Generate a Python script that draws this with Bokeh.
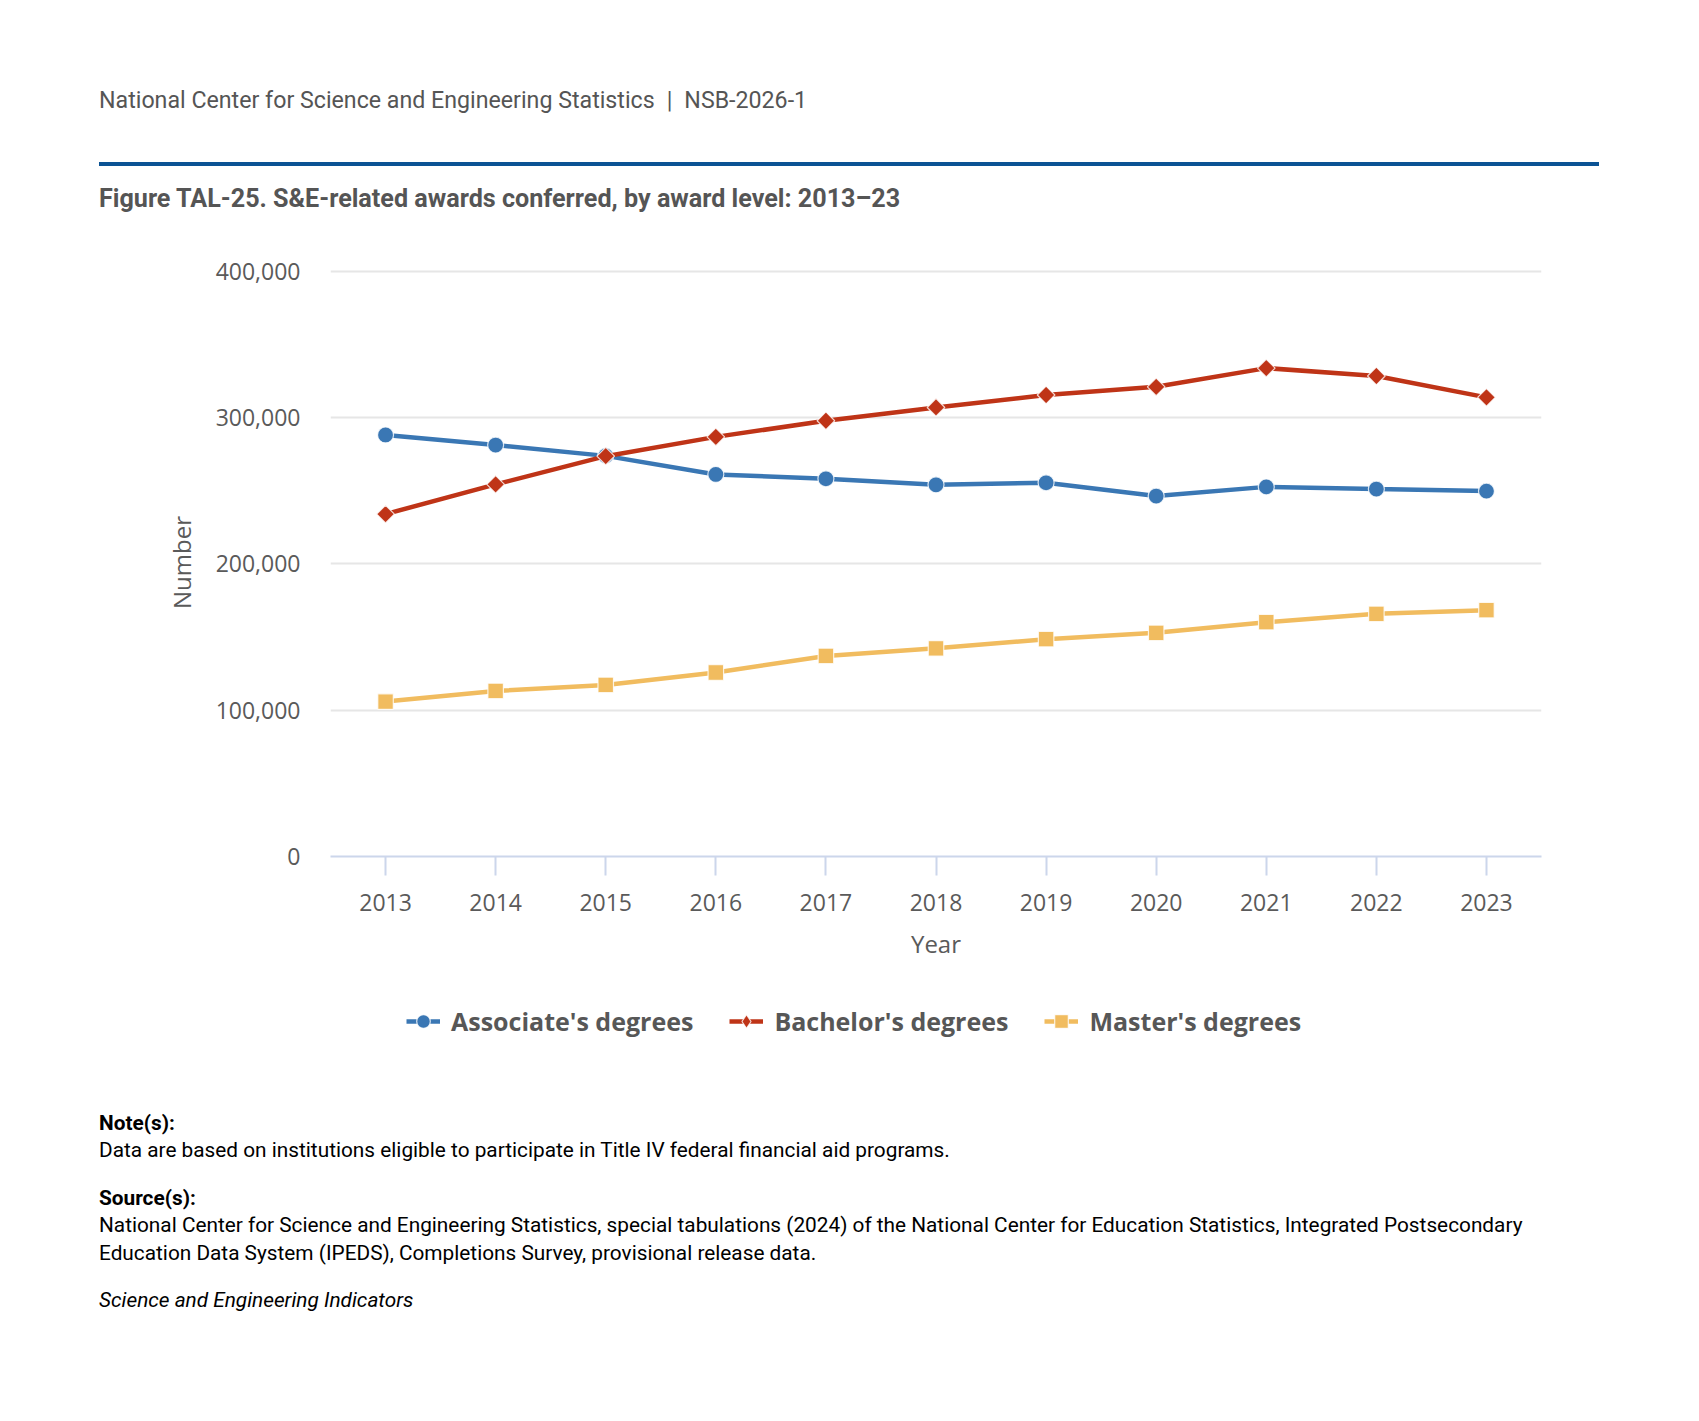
import numpy as np
from bokeh.plotting import figure
from bokeh.models import Legend, LegendItem, FixedTicker, NumeralTickFormatter, Div
from bokeh.layouts import column
from bokeh.embed import file_html
from bokeh.resources import INLINE

# ---------------- data ----------------
years = [2013, 2014, 2015, 2016, 2017, 2018, 2019, 2020, 2021, 2022, 2023]
associates = [288200, 281300, 273900, 261200, 258200, 254100, 255500, 246400, 252700, 251200, 249800]
bachelors = [234100, 254400, 273700, 286900, 297900, 307000, 315500, 321100, 333900, 328500, 313900]
masters = [105900, 113200, 117300, 125800, 137100, 142300, 148600, 152900, 160200, 165900, 168400]
y_ticks = [0, 100000, 200000, 300000, 400000]

series_names = ["Associate's degrees", "Bachelor's degrees", "Master's degrees"]
series_colors = ["#3A77B4", "#BF3417", "#F1BC5F"]

header_org = "National Center for Science and Engineering Statistics"
header_id = "NSB-2026-1"
title_text = "Figure TAL-25. S&amp;E-related awards conferred, by award level: 2013\u201323"
note_head = "Note(s):"
note_body = "Data are based on institutions eligible to participate in Title IV federal financial aid programs."
source_head = "Source(s):"
source_lines = [
    "National Center for Science and Engineering Statistics, special tabulations (2024) of the National Center for Education Statistics, Integrated Postsecondary",
    "Education Data System (IPEDS), Completions Survey, provisional release data.",
]
footer_text = "Science and Engineering Indicators"

W = 1683
HEAD_H = 222
LEFT = 94

# ---------------- header ----------------
header_html = f"""
<div style="position:relative;width:{W}px;height:{HEAD_H}px;font-family:Roboto,sans-serif;">
  <div style="position:absolute;left:{LEFT}px;top:81px;font-size:23.2px;line-height:28px;color:#555555;white-space:nowrap;">{header_org}<span style="margin:0 12px;">|</span>{header_id}</div>
  <div style="position:absolute;left:{LEFT}px;top:157px;width:1500px;height:4px;background:#0B5394;"></div>
  <div style="position:absolute;left:{LEFT}px;top:179px;font-size:25.15px;line-height:30px;font-weight:bold;color:#555555;white-space:nowrap;">{title_text}</div>
</div>
"""
header = Div(text=header_html, width=W, height=HEAD_H)

# ---------------- chart ----------------
FH = 756
p = figure(width=W, height=FH, x_range=(2012.5, 2023.5), y_range=(0, 402000),
           output_backend="svg", toolbar_location=None,
           min_border_left=330, min_border_right=142,
           min_border_top=36, min_border_bottom=132)
p.outline_line_color = None
p.background_fill_color = "white"
p.border_fill_color = "white"

TICK_COLOR = "#5a5a5a"
p.yaxis.ticker = FixedTicker(ticks=y_ticks)
p.yaxis.formatter = NumeralTickFormatter(format="0,0")
p.yaxis.axis_line_color = None
p.yaxis.major_tick_line_color = None
p.yaxis.minor_tick_line_color = None
p.yaxis.major_label_standoff = 24
p.yaxis.major_label_text_font = "Open Sans"
p.yaxis.major_label_text_font_size = "23px"
p.yaxis.major_label_text_color = TICK_COLOR
p.yaxis.axis_label = "Number"
p.yaxis.axis_label_text_font = "Open Sans"
p.yaxis.axis_label_text_font_size = "24px"
p.yaxis.axis_label_text_font_style = "normal"
p.yaxis.axis_label_text_color = TICK_COLOR
p.yaxis.axis_label_standoff = 15

p.xaxis.ticker = FixedTicker(ticks=years)
p.xaxis.axis_line_color = "#ccd6eb"
p.xaxis.axis_line_width = 2
p.xaxis.major_tick_line_color = "#ccd6eb"
p.xaxis.major_tick_line_width = 2
p.xaxis.major_tick_in = 0
p.xaxis.major_tick_out = 19
p.xaxis.minor_tick_line_color = None
p.xaxis.major_label_standoff = 18
p.xaxis.major_label_text_font = "Open Sans"
p.xaxis.major_label_text_font_size = "23px"
p.xaxis.major_label_text_color = TICK_COLOR
p.xaxis.axis_label = "Year"
p.xaxis.axis_label_text_font = "Open Sans"
p.xaxis.axis_label_text_font_size = "24px"
p.xaxis.axis_label_text_font_style = "normal"
p.xaxis.axis_label_text_color = TICK_COLOR
p.xaxis.axis_label_standoff = 13

p.xgrid.grid_line_color = None
p.ygrid.ticker = FixedTicker(ticks=y_ticks)
p.ygrid.grid_line_color = "#e6e6e6"
p.ygrid.grid_line_width = 2

series_vals = [associates, bachelors, masters]
marker_specs = [("circle", 16, 0.0), ("square", 12.5, np.pi / 4), ("square", 15.5, 0.0)]
for vals, color, (mk, sz, ang) in zip(series_vals, series_colors, marker_specs):
    p.line(years, vals, line_color=color, line_width=4.5)
    p.scatter(years, vals, marker=mk, size=sz, angle=ang, fill_color=color,
              line_color="white", line_width=1.2, line_alpha=0.8)

# ---------------- legend strip (its own small figure; series drawn off-range as legend proxies) ----------------
LH = 74
lg = figure(width=W, height=LH, x_range=(0, 1), y_range=(0, 1),
            output_backend="svg", toolbar_location=None,
            min_border_left=0, min_border_right=0, min_border_top=0, min_border_bottom=0)
lg.axis.visible = False
lg.grid.visible = False
lg.outline_line_color = None
lg.border_fill_color = "white"
items = []
for name, vals, color, mk in zip(series_names, series_vals, series_colors,
                                 ["circle", "diamond", "square"]):
    ln = lg.line(years, vals, line_color=color, line_width=4.5)
    sc = lg.scatter(years, vals, marker=mk, fill_color=color,
                    line_color="white", line_width=1.2, line_alpha=0.8)
    items.append(LegendItem(label=name, renderers=[ln, sc]))
legend = Legend(items=items, orientation="horizontal", location=(76, 24),
                glyph_width=34, glyph_height=34, label_standoff=11, spacing=36,
                padding=0, margin=0, border_line_color=None,
                background_fill_alpha=0,
                label_text_font="Open Sans", label_text_font_style="bold",
                label_text_font_size="25px", label_text_color="#575757")
lg.add_layout(legend, "center")

# ---------------- notes ----------------
NH = 1413 - (8 + HEAD_H + FH + LH)
def line(top, text, extra=""):
    return (f'<div style="position:absolute;left:{LEFT}px;top:{top}px;font-size:20.8px;line-height:25px;'
            f'color:#000000;white-space:nowrap;{extra}">{text}</div>')

notes_html = (f'<div style="position:relative;width:{W}px;height:{NH}px;font-family:Roboto,sans-serif;">'
              + line(44, note_head, "font-weight:bold;")
              + line(71, note_body)
              + line(119, source_head, "font-weight:bold;")
              + line(146, source_lines[0])
              + line(174, source_lines[1])
              + line(221, footer_text, "font-style:italic;")
              + '</div>')
notes = Div(text=notes_html, width=W, height=NH)

layout = column(header, p, lg, notes, spacing=0)
open("out.html", "w").write(file_html(layout, INLINE))
